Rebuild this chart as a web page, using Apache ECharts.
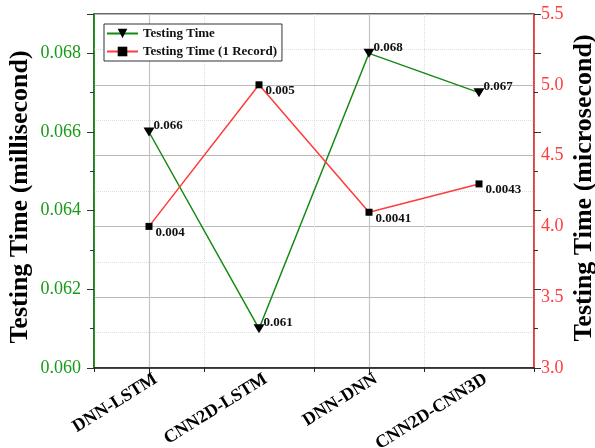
<!DOCTYPE html>
<html><head><meta charset="utf-8">
<script src="https://cdn.jsdelivr.net/npm/echarts@6/dist/echarts.min.js"></script>
<style>html,body{margin:0;padding:0;background:#fff}#c{width:595px;height:448px}</style>
</head><body><div id="c"></div>
<script>
const categories = ['DNN-LSTM', 'CNN2D-LSTM', 'DNN-DNN', 'CNN2D-CNN3D'];
const testingTimeMs = [0.066, 0.061, 0.068, 0.067];
const testingTimeLabels = ['0.066', '0.061', '0.068', '0.067'];
const recordTimeUs = [4.0, 5.0, 4.1, 4.3];
const recordTimeLabels = ['0.004', '0.005', '0.0041', '0.0043'];

const FONT = '"Liberation Serif", "Times New Roman", serif';
const GREEN = '#0a8a0a';
const LABEL_GREEN = '#179a17';
const RED = '#ff3b3b';

const chart = echarts.init(document.getElementById('c'), null, {renderer: 'canvas'});
chart.setOption({
  animation: false,
  backgroundColor: '#fff',
  grid: {left: 94, right: 61, top: 14, bottom: 80, containLabel: false, outerBoundsMode: 'none',
    show: true, borderColor: '#333', borderWidth: 1.5, backgroundColor: 'transparent'},
  legend: {
    orient: 'vertical', left: 104, top: 24,
    padding: [3, 5, 3, 2], itemGap: 5, itemWidth: 31, itemHeight: 12,
    borderColor: '#333', borderWidth: 1, backgroundColor: '#fff',
    textStyle: {fontFamily: FONT, fontWeight: 'bold', fontSize: 13, color: '#111'},
    data: ['Testing Time', 'Testing Time (1 Record)']
  },
  xAxis: [{
    type: 'category', data: categories, boundaryGap: true, position: 'bottom',
    axisLine: {show: true, lineStyle: {color: '#222', width: 1.5}},
    axisTick: {show: true, length: 4, lineStyle: {color: '#222'}},
    axisLabel: {rotate: 32, margin: 14, padding: [4, -8, 0, 0], fontFamily: FONT, fontWeight: 'bold', fontSize: 18, color: '#000'},
    splitLine: {show: true, lineStyle: {color: '#ddd', type: 'dotted', width: 1}}
  }, {
    type: 'category', data: categories, boundaryGap: true, position: 'bottom',
    axisLine: {show: false},
    axisTick: {show: true, alignWithLabel: true, length: 7, lineStyle: {color: '#222'}},
    axisLabel: {show: false},
    splitLine: {show: true, alignWithLabel: true, lineStyle: {color: '#c4c4c4', width: 1.2}}
  }],
  yAxis: [{
    type: 'value', position: 'left', min: 0.060, max: 0.069, interval: 0.002,
    name: 'Testing Time (millisecond)', nameLocation: 'middle', nameGap: 61, nameMoveOverlap: false,
    nameTextStyle: {fontFamily: FONT, fontWeight: 'bold', fontSize: 26, color: '#000', padding: [0, 12, 0, 0]},
    axisLine: {show: true, lineStyle: {color: GREEN, width: 1.5}},
    axisTick: {show: true, length: 7, lineStyle: {color: '#333'}},
    minorTick: {show: true, splitNumber: 2, length: 4, lineStyle: {color: '#333'}},
    axisLabel: {showMaxLabel: false, margin: 13, fontFamily: FONT, fontSize: 18, color: LABEL_GREEN,
      formatter: v => v.toFixed(3)},
    splitLine: {show: false}
  }, {
    type: 'value', position: 'right', min: 3.0, max: 5.5, interval: 0.5,
    name: 'Testing Time (microsecond)', nameLocation: 'middle', nameGap: 37, nameRotate: 90, nameMoveOverlap: false,
    nameTextStyle: {fontFamily: FONT, fontWeight: 'bold', fontSize: 26, color: '#000', padding: [0, 0, 0, 6]},
    axisLine: {show: true, lineStyle: {color: RED, width: 1.5}},
    axisTick: {show: false},
    axisLabel: {margin: 7, fontFamily: FONT, fontSize: 18, color: RED,
      formatter: v => v.toFixed(1)},
    splitLine: {show: true, lineStyle: {color: '#b8b8b8', width: 1}},
    minorSplitLine: {show: true, lineStyle: {color: '#ddd', type: 'dotted', width: 1}},
    minorTick: {show: false, splitNumber: 2}
  }, {
    type: 'value', position: 'right', min: 0.060, max: 0.069, interval: 0.002,
    axisLine: {show: false},
    axisTick: {show: true, length: 7, lineStyle: {color: '#333'}},
    minorTick: {show: true, splitNumber: 2, length: 4, lineStyle: {color: '#333'}},
    axisLabel: {show: false},
    splitLine: {show: false}
  }],
  series: [{
    name: 'Testing Time', type: 'line', xAxisIndex: 0, yAxisIndex: 0,
    data: testingTimeMs, symbol: 'triangle', symbolRotate: 180, symbolSize: [11, 9],
    itemStyle: {color: '#000'}, lineStyle: {color: '#138a13', width: 1.5}, z: 3,
    label: {show: true, position: 'right', offset: [-6, -6], fontFamily: FONT, fontWeight: 'bold', fontSize: 13, color: '#111',
      formatter: p => testingTimeLabels[p.dataIndex]}
  }, {
    name: 'Testing Time (1 Record)', type: 'line', xAxisIndex: 0, yAxisIndex: 1,
    data: recordTimeUs, symbol: 'rect', symbolSize: 7,
    itemStyle: {color: '#000'}, lineStyle: {color: RED, width: 1.5}, z: 3,
    label: {show: true, position: 'right', offset: [-2, 6], fontFamily: FONT, fontWeight: 'bold', fontSize: 13, color: '#111',
      formatter: p => recordTimeLabels[p.dataIndex]}
  }]
});
</script></body></html>
